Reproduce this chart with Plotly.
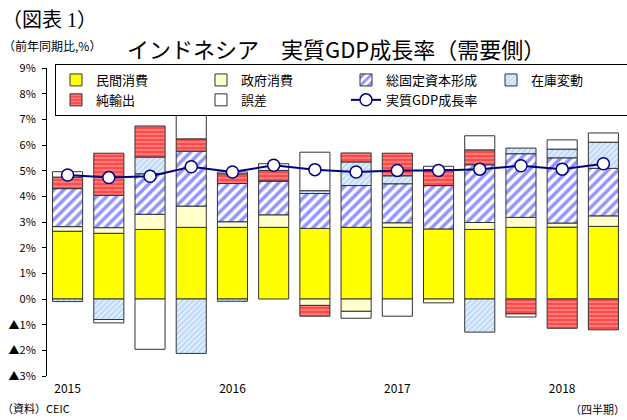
import plotly.graph_objects as go

quarters = ["2015Q1", "2015Q2", "2015Q3", "2015Q4",
            "2016Q1", "2016Q2", "2016Q3", "2016Q4",
            "2017Q1", "2017Q2", "2017Q3", "2017Q4",
            "2018Q1", "2018Q2"]
private_cons = [2.64, 2.56, 2.71, 2.79, 2.79, 2.79, 2.75, 2.79, 2.79, 2.73, 2.71, 2.79, 2.80, 2.83]
gov_cons = [0.18, 0.22, 0.59, 0.83, 0.22, 0.49, -0.25, -0.48, 0.18, -0.15, 0.27, 0.39, 0.16, 0.41]
gfcf = [1.48, 1.26, 1.58, 2.14, 1.49, 1.32, 1.36, 1.63, 1.52, 1.69, 2.25, 2.48, 2.54, 1.85]
inventory = [-0.10, -0.80, 0.65, -2.12, -0.09, 0.0, 0.11, 0.92, 0.31, 0.0, -1.29, 0.22, 0.34, 1.02]
net_exports = [0.45, 1.64, 1.21, 0.48, 0.38, 0.41, -0.42, 0.35, 0.88, 0.62, 0.58, -0.58, -1.14, -1.20]
discrepancy = [0.21, -0.13, -1.96, 1.03, 0.07, 0.26, 1.50, -0.27, -0.67, 0.13, 0.55, -0.12, 0.36, 0.36]
gdp_growth = [4.83, 4.73, 4.78, 5.15, 4.95, 5.21, 5.04, 4.95, 5.01, 5.01, 5.06, 5.19, 5.06, 5.27]

year_tick_cats = ["2015Q1", "2016Q1", "2017Q1", "2018Q1"]
year_tick_text = ["2015", "2016", "2017", "2018"]
y_tick_vals = [-3, -2, -1, 0, 1, 2, 3, 4, 5, 6, 7, 8, 9]
y_tick_text = ["▲3%", "▲2%", "▲1%", "0%", "1%", "2%", "3%", "4%", "5%", "6%", "7%", "8%", "9%"]

FONT = "Noto Sans CJK JP"
OUTLINE = dict(color="#333333", width=1)

fig = go.Figure()

fig.add_trace(go.Bar(name="民間消費", x=quarters, y=private_cons,
                     marker=dict(color="#ffff00", line=OUTLINE)))
fig.add_trace(go.Bar(name="政府消費", x=quarters, y=gov_cons,
                     marker=dict(color="#ffffcc", line=OUTLINE)))
fig.add_trace(go.Bar(name="総固定資本形成", x=quarters, y=gfcf,
                     marker=dict(color="#ffffff", line=OUTLINE,
                                 pattern=dict(shape="/", fgcolor="#2828ff", bgcolor="#ffffff",
                                              size=7, solidity=0.5))))
fig.add_trace(go.Bar(name="在庫変動", x=quarters, y=inventory,
                     marker=dict(color="#cfe4ff", line=OUTLINE,
                                 pattern=dict(shape="/", fgcolor="#8cbcf0", bgcolor="#e2efff",
                                              size=4, solidity=0.45))))
fig.add_trace(go.Bar(name="純輸出", x=quarters, y=net_exports,
                     marker=dict(color="#ff5555", line=OUTLINE,
                                 pattern=dict(shape="-", fgcolor="#ffd0d0", bgcolor="#ff4a4a",
                                              size=4, solidity=0.35))))
fig.add_trace(go.Bar(name="誤差", x=quarters, y=discrepancy,
                     marker=dict(color="#ffffff", line=OUTLINE)))
fig.add_trace(go.Scatter(name="実質GDP成長率", x=quarters, y=gdp_growth,
                         mode="lines+markers",
                         line=dict(color="#000080", width=2),
                         marker=dict(symbol="circle", size=12, color="#ffffff",
                                     line=dict(color="#000080", width=1.5))))

W, H = 627, 420
ML, MR, MT, MB = 47, 3, 68, 44
PW, PH = W - ML - MR, H - MT - MB


def px(xp):
    return (xp - ML) / PW


def py(yp):
    return (H - MB - yp) / PH


fig.update_layout(
    width=W, height=H,
    margin=dict(l=ML, r=MR, t=MT, b=MB, autoexpand=False),
    paper_bgcolor="#ffffff", plot_bgcolor="#ffffff",
    barmode="relative", bargap=0.27,
    font=dict(family=FONT, size=11, color="#000000"),
    showlegend=True,
    legend=dict(orientation="h", x=px(55), y=py(64), xanchor="left", yanchor="top",
                traceorder="normal", entrywidth=100, entrywidthmode="pixels",
                bordercolor="#000000", borderwidth=1, bgcolor="#ffffff",
                font=dict(family=FONT, size=13, color="#000000"),
                itemwidth=30, tracegroupgap=0),
    xaxis=dict(type="category", categoryorder="array", categoryarray=quarters,
               range=[-0.5, len(quarters) - 0.5], automargin=False,
               tickvals=year_tick_cats, ticktext=year_tick_text,
               ticks="", showline=False, showgrid=False, zeroline=False,
               ticklabelstandoff=4,
               tickfont=dict(family=FONT, size=12, color="#000000")),
    xaxis2=dict(overlaying="x", anchor="free", position=3 / 12, automargin=False,
                range=[-0.5, len(quarters) - 0.5],
                tickvals=[i + 0.5 for i in range(len(quarters))],
                ticks="inside", ticklen=4, tickcolor="#000000",
                showline=True, linecolor="#000000", linewidth=1,
                showticklabels=False, showgrid=False, zeroline=False),
    yaxis=dict(range=[-3, 9], tickvals=y_tick_vals, ticktext=y_tick_text,
               automargin=False,
               ticks="outside", ticklen=4, tickcolor="#000000",
               showline=True, linecolor="#000000", linewidth=1,
               showgrid=False, zeroline=False, ticklabelstandoff=4,
               tickfont=dict(family=FONT, size=11, color="#000000")),
)

annotations = [
    dict(text="（図表 1）", x=px(0), y=py(20), xanchor="left", yanchor="middle",
         font=dict(family="Liberation Serif, " + FONT, size=20)),
    dict(text="（前年同期比,%）", x=px(1), y=py(45), xanchor="left", yanchor="middle",
         font=dict(family=FONT, size=12)),
    dict(text="インドネシア　実質GDP成長率（需要側）", x=px(336), y=py(48),
         xanchor="center", yanchor="middle",
         font=dict(family=FONT, size=22)),
    dict(text="（資料）CEIC", x=px(0), y=py(408), xanchor="left", yanchor="middle",
         font=dict(family=FONT, size=11)),
    dict(text="（四半期）", x=px(627), y=py(409), xanchor="right", yanchor="middle",
         font=dict(family=FONT, size=11)),
]
for a in annotations:
    a.update(xref="paper", yref="paper", showarrow=False)
fig.update_layout(annotations=annotations)

fig.write_html("out.html", config={"displayModeBar": False},
               post_script="document.body.style.margin='0';document.body.style.padding='0';")
